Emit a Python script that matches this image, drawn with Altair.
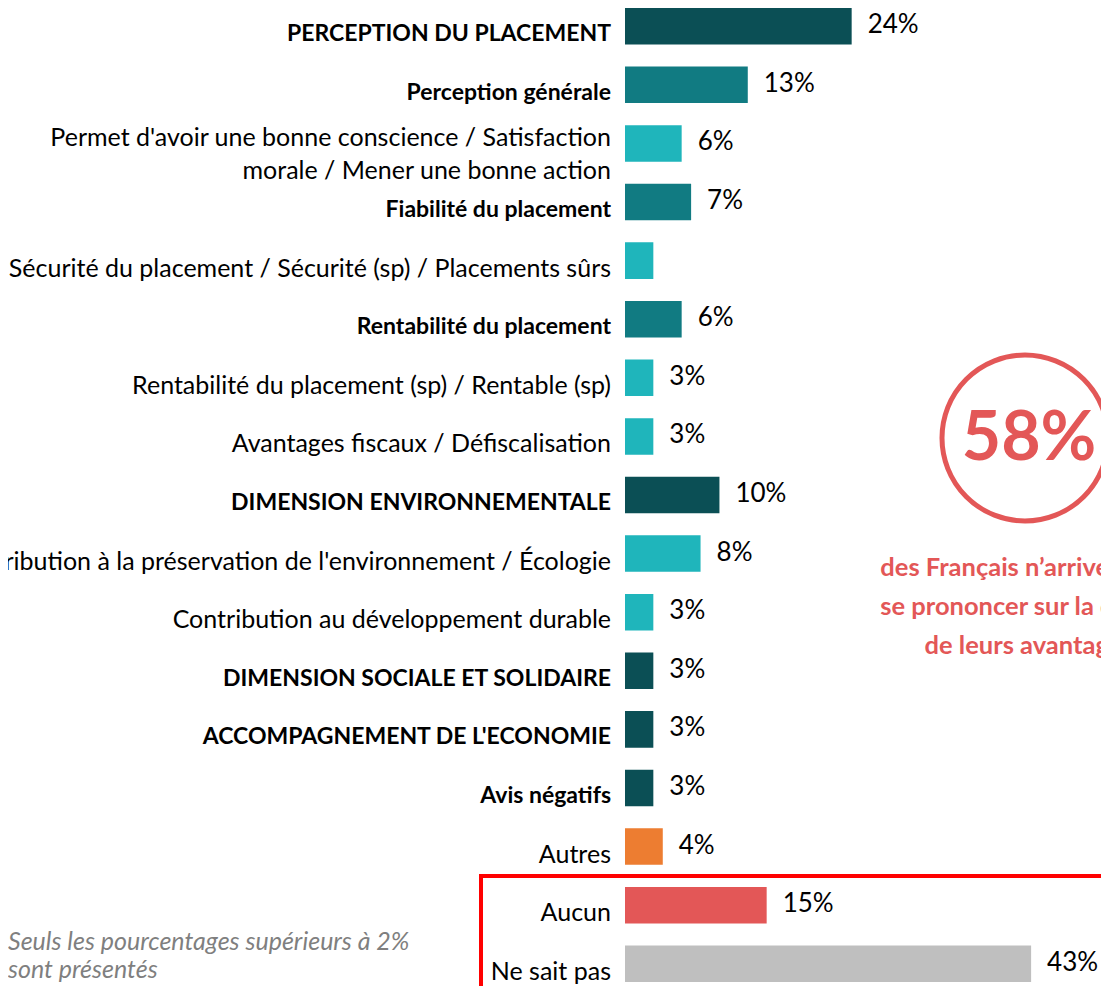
import altair as alt
import pandas as pd

categories = [
    "PERCEPTION DU PLACEMENT",
    "Perception générale",
    "Permet d'avoir une bonne conscience / Satisfaction\nmorale / Mener une bonne action",
    "Fiabilité du placement",
    "Sécurité du placement / Sécurité (sp) / Placements sûrs",
    "Rentabilité du placement",
    "Rentabilité du placement (sp) / Rentable (sp)",
    "Avantages fiscaux / Défiscalisation",
    "DIMENSION ENVIRONNEMENTALE",
    "Contribution à la préservation de l'environnement / Écologie",
    "Contribution au développement durable",
    "DIMENSION SOCIALE ET SOLIDAIRE",
    "ACCOMPAGNEMENT DE L'ECONOMIE",
    "Avis négatifs",
    "Autres",
    "Aucun",
    "Ne sait pas",
]
values = [24, 13, 6, 7, 3, 6, 3, 3, 10, 8, 3, 3, 3, 3, 4, 15, 43]
value_labels = ["24%", "13%", "6%", "7%", "", "6%", "3%", "3%", "10%", "8%",
                "3%", "3%", "3%", "3%", "4%", "15%", "43%"]
bold = [True, True, False, True, False, True, False, False, True, False,
        False, True, True, True, False, False, False]
levels = ["dark", "mid", "light", "mid", "light", "mid", "light", "light", "dark",
          "light", "light", "dark", "dark", "dark", "other", "none", "dk"]
palette = {"dark": "#0B4F55", "mid": "#117B82", "light": "#1FB5BB",
           "other": "#ED7D31", "none": "#E35757", "dk": "#BFBFBF"}

note_lines = "Seuls les pourcentages supérieurs à 2%\nsont présentés\nSP : Sans Précision"
big_number = "58%"
callout = "des Français n’arrivent pas\nse prononcer sur la qualité\nde leurs avantages"

ids = [f"r{i:02d}" for i in range(len(categories))]
df = pd.DataFrame({
    "id": ids,
    "cat": categories,
    "value": values,
    "label": value_labels,
    "bold": bold,
    "multi": ["\n" in c for c in categories],
    "color": [palette[l] for l in levels],
})

FONT = "Lato"
RED = "#E35757"

base = alt.Chart(df)
yenc = alt.Y("id:N", sort=ids, axis=None,
             scale=alt.Scale(domain=ids, paddingInner=0.377, paddingOuter=0))
xscale = alt.Scale(domain=[0, 50.4], nice=False, zero=True)

bars = base.mark_bar().encode(
    x=alt.X("value:Q", scale=xscale, axis=None),
    y=yenc,
    color=alt.Color("color:N", scale=None),
)

vals = base.mark_text(align="left", baseline="middle", dx=16, dy=-1,
                      font=FONT, fontSize=26, color="#000000").encode(
    x=alt.X("value:Q", scale=xscale),
    y=yenc,
    text="label:N",
)

cat_norm = base.transform_filter("!datum.bold && !datum.multi").mark_text(
    align="right", baseline="middle", dx=-14, dy=8,
    font=FONT, fontSize=25, color="#000000").encode(
    x=alt.datum(0, scale=xscale),
    y=yenc,
    text="cat:N",
)
cat_multi = base.transform_filter("datum.multi").mark_text(
    align="right", baseline="middle", dx=-14, dy=-5, lineBreak="\n", lineHeight=33,
    font=FONT, fontSize=25, color="#000000").encode(
    x=alt.datum(0, scale=xscale),
    y=yenc,
    text="cat:N",
)
cat_bold = base.transform_filter("datum.bold").mark_text(
    align="right", baseline="middle", dx=-14, dy=8,
    font=FONT, fontSize=23, fontWeight="bold", color="#000000").encode(
    x=alt.datum(0, scale=xscale),
    y=yenc,
    text="cat:N",
)

deco = alt.Chart(pd.DataFrame({"k": [0]}))

box = deco.mark_rect(fillOpacity=0, stroke="#FF0000", strokeWidth=4).encode(
    x=alt.value(-144), x2=alt.value(700), y=alt.value(868), y2=alt.value(1200))

circle = deco.mark_point(shape="circle", filled=False, size=27556,
                         strokeWidth=5, color=RED, opacity=1).encode(
    x=alt.value(400), y=alt.value(430))

big = deco.mark_text(align="center", baseline="middle", font=FONT, fontSize=68,
                     fontWeight="bold", color=RED).encode(
    x=alt.value(404), y=alt.value(432), text=alt.value(big_number))

sub = deco.mark_text(align="center", baseline="top", font=FONT, fontSize=25.5,
                     fontWeight="bold", color=RED, lineBreak="\n", lineHeight=39).encode(
    x=alt.value(404), y=alt.value(548), text=alt.value(callout))

note = deco.mark_text(align="left", baseline="top", font=FONT, fontSize=25,
                      fontStyle="italic", color="#7F7F7F", lineBreak="\n",
                      lineHeight=28).encode(
    x=alt.value(-617), y=alt.value(922), text=alt.value(note_lines))

chart = alt.layer(box, bars, vals, cat_norm, cat_multi, cat_bold, circle, big, sub, note).properties(
    width=476, height=974,
    autosize=alt.AutoSizeParams(type="none"),
    padding={"left": 617, "top": 0, "right": 0, "bottom": 4},
).configure_view(stroke=None)

chart.save("out.html", embed_options={"renderer": "svg", "actions": False})
